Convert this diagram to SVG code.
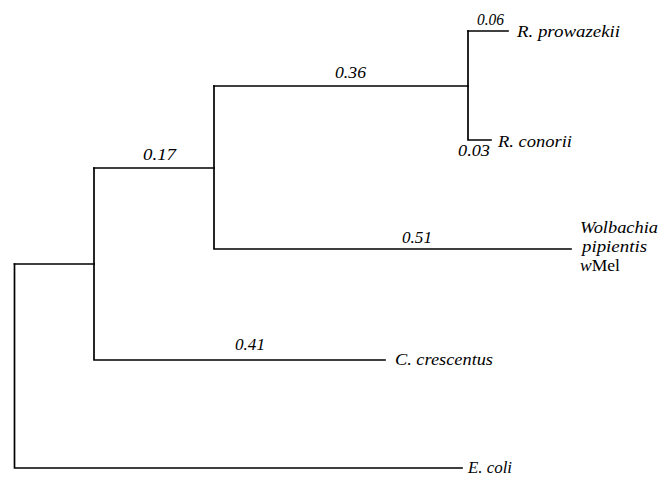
<svg xmlns="http://www.w3.org/2000/svg" width="671" height="478" viewBox="0 0 671 478">
<style>
.e{fill:none;stroke:#000;stroke-width:1.7;stroke-linecap:square}
.t{font-family:"Liberation Serif","Times New Roman",serif;font-style:italic;font-size:16px;fill:#000}
.r{font-style:normal}
</style>
<rect width="671" height="478" fill="#fff"/>
<g id="connectors">
<path class="e" d="M14.5,264 V468 H462"/>
<path class="e" d="M14.5,264 H94"/>
<path class="e" d="M94,168 V360 H385"/>
<path class="e" d="M94,168 H214"/>
<path class="e" d="M214,86 V249 H571"/>
<path class="e" d="M214,86 H468"/>
<path class="e" d="M468,31 V140 H491"/>
<path class="e" d="M468,31 H508"/>
</g>
<g id="branch-labels">
<text class="t" x="477" y="25" textLength="27" lengthAdjust="spacingAndGlyphs">0.06</text>
<text class="t" x="458" y="156" textLength="32" lengthAdjust="spacingAndGlyphs">0.03</text>
<text class="t" x="335" y="78" textLength="31" lengthAdjust="spacingAndGlyphs">0.36</text>
<text class="t" x="143" y="160" textLength="33" lengthAdjust="spacingAndGlyphs">0.17</text>
<text class="t" x="402" y="243" textLength="30" lengthAdjust="spacingAndGlyphs">0.51</text>
<text class="t" x="235" y="350" textLength="30" lengthAdjust="spacingAndGlyphs">0.41</text>
</g>
<g id="node-rprowazekii"><text class="t" x="517" y="37" textLength="103" lengthAdjust="spacingAndGlyphs">R. prowazekii</text></g>
<g id="node-rconorii"><text class="t" x="498" y="147" textLength="74" lengthAdjust="spacingAndGlyphs">R. conorii</text></g>
<g id="node-wolbachia">
<text class="t" x="580" y="233" textLength="78" lengthAdjust="spacingAndGlyphs">Wolbachia</text>
<text class="t" x="582" y="252" textLength="65" lengthAdjust="spacingAndGlyphs">pipientis</text>
<text class="t" x="580" y="271" textLength="40" lengthAdjust="spacingAndGlyphs">w<tspan class="r">Mel</tspan></text>
</g>
<g id="node-ccrescentus"><text class="t" x="395" y="365" textLength="98" lengthAdjust="spacingAndGlyphs">C. crescentus</text></g>
<g id="node-ecoli"><text class="t" x="468" y="473" textLength="44" lengthAdjust="spacingAndGlyphs">E. coli</text></g>
</svg>
